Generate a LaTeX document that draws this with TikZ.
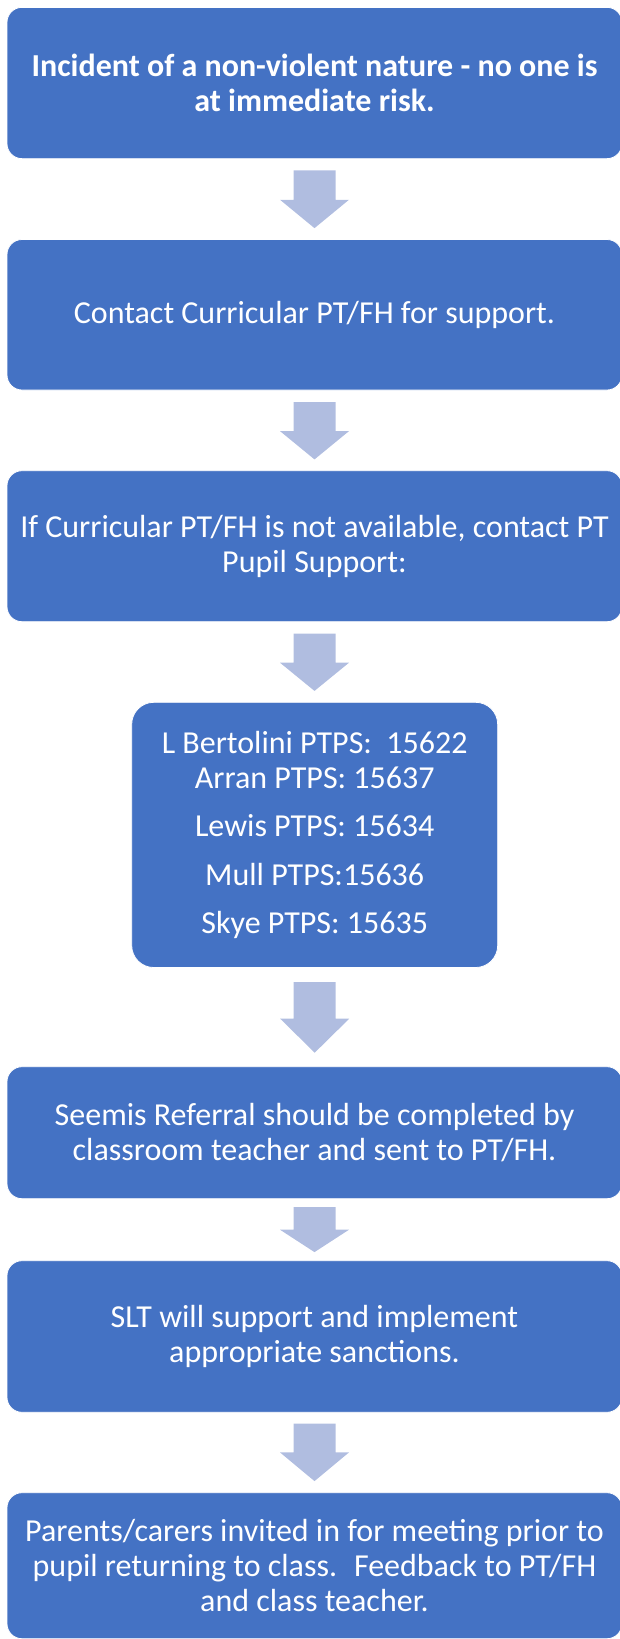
\documentclass[tikz,border=0pt]{standalone}
\usepackage{fontspec}
\setmainfont{Carlito}
\usetikzlibrary{calc}
\definecolor{boxblue}{HTML}{4472C4}
\definecolor{arrowfill}{HTML}{B0BDE0}
\tikzset{
  box/.style={fill=boxblue, draw=white, line width=0.8pt, rounded corners=15pt,
    text=white, align=center, inner sep=0pt,
    font=\fontsize{32}{35}\selectfont},
  blk/.style={fill=arrowfill, draw=none}
}
\newcommand\blkarrow[4]{%
  \path[blk] ($(#1.south)+(-21,#2)$) -- ++(42,0) -- ++(0,#3) -- ++(13.5,0)
    -- ++(-34.5,#4) -- ++(-34.5,-#4) -- ++(13.5,0) -- cycle;}
\begin{document}
\begin{tikzpicture}[x=1pt,y=-1pt]
\useasboundingbox (0,0) rectangle (620,1639);
\clip (0,0) rectangle (620,1639);
\node[box, minimum width=615, minimum height=151.3, font=\fontsize{32}{35}\selectfont\bfseries] (b1) at (314.5,83)
  {Incident of a non-violent nature - no one is\\at immediate risk.};
\node[box, minimum width=615, minimum height=150.5] (b2) at (314.5,314.75)
  {Contact Curricular PT/FH for support.};
\node[box, minimum width=615, minimum height=151] (b3) at (314.5,546.2)
  {If Curricular PT/FH is not available, contact PT\\Pupil Support:};
\node[box, rounded corners=22pt, minimum width=366, minimum height=265.2] (b4) at (314.7,834.9)
  {L Bertolini PTPS:~ 15622\\Arran PTPS: 15637\\[13.3pt]Lewis PTPS: 15634\\[13.3pt]Mull PTPS:15636\\[13.3pt]Skye PTPS: 15635};
\node[box, minimum width=615, minimum height=132] (b5) at (314.5,1132.7)
  {Seemis Referral should be completed by\\classroom teacher and sent to PT/FH.};
\node[box, minimum width=615, minimum height=151.6] (b6) at (314.5,1336.5)
  {SLT will support and implement\\appropriate sanctions.};
\node[box, minimum width=615, minimum height=146] (b7) at (314.5,1565.7)
  {Parents/carers invited in for meeting prior to\\pupil returning to class.~ Feedback to PT/FH\\and class teacher.};
\blkarrow{b1}{11.4}{29.3}{28.4}
\blkarrow{b2}{11.7}{29}{28.3}
\blkarrow{b3}{11.6}{29}{28.2}
\blkarrow{b4}{14.2}{36.6}{34}
\blkarrow{b5}{8}{22.6}{22.4}
\blkarrow{b6}{11}{28.7}{28.7}
\end{tikzpicture}
\end{document}
